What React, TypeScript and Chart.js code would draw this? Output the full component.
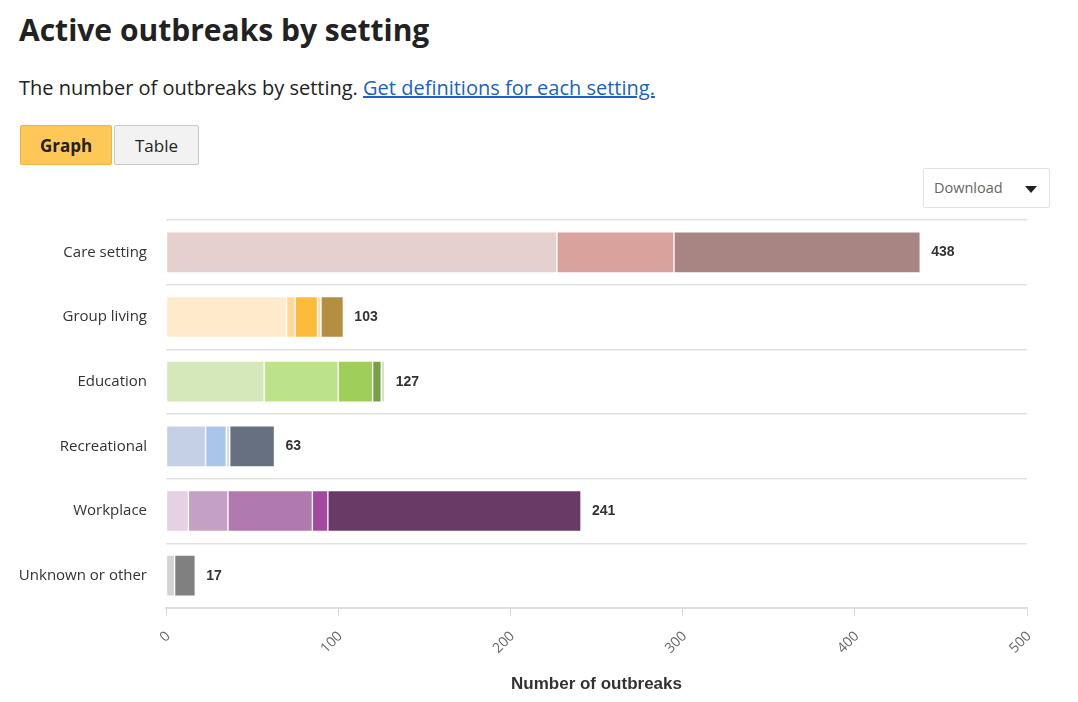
import React, { useEffect, useRef } from "react";
import { Chart, registerables } from "chart.js";

Chart.register(...registerables);

const categories = ["Care setting", "Group living", "Education", "Recreational", "Workplace", "Unknown or other"];
const totals = [438, 103, 127, 63, 241, 17];

const segment1 = [227, 70, 57, 23, 13, 5];
const segment2 = [68, 5, 43, 12, 23, 12];
const segment3 = [143, 13, 20, 2, 49, 0];
const segment4 = [0, 2, 5, 26, 9, 0];
const segment5 = [0, 13, 2, 0, 147, 0];

const colors1 = ["#E6CFCF", "#FEEBCB", "#D5E8B9", "#C4D1E4", "#E6D0E4", "#D3D3D3"];
const colors2 = ["#D8A29D", "#FDD898", "#BDE38A", "#A8C5EA", "#C4A1C4", "#808080"];
const colors3 = ["#A78582", "#FDBB3C", "#9FCF5A", "#D2DCEC", "#B07AAE", "#808080"];
const colors4 = ["#A78582", "#F3DDB6", "#789F4A", "#677080", "#A34A9F", "#808080"];
const colors5 = ["#A78582", "#B58F41", "#D6E4C4", "#677080", "#693A66", "#808080"];

const xTicks = [0, 100, 200, 300, 400, 500];

const totalsPlugin = {
  id: "totalsLabels",
  afterDatasetsDraw(chart: any) {
    const { ctx, scales } = chart;
    ctx.save();
    ctx.font = "bold 14px 'Liberation Sans', Arial, sans-serif";
    ctx.fillStyle = "#333";
    ctx.textAlign = "left";
    ctx.textBaseline = "middle";
    totals.forEach((t, i) => {
      const x = scales.x.getPixelForValue(t) + 11;
      const y = scales.y.getPixelForValue(i);
      ctx.fillText(String(t), x, y);
    });
    ctx.restore();
  },
};

function OutbreakChart() {
  const ref = useRef<HTMLCanvasElement>(null);
  useEffect(() => {
    if (!ref.current) return;
    const segs = [segment1, segment2, segment3, segment4, segment5];
    const cols = [colors1, colors2, colors3, colors4, colors5];
    const chart = new Chart(ref.current, {
      type: "bar",
      data: {
        labels: categories,
        datasets: segs.map((d, k) => ({
          label: "s" + (k + 1),
          data: d,
          backgroundColor: cols[k],
          borderColor: "rgba(255,255,255,0.85)",
          borderWidth: 1,
          borderSkipped: false,
          barThickness: 41,
        })),
      },
      options: {
        indexAxis: "y",
        responsive: false,
        animation: false,
        layout: { padding: { top: 10, right: 51, left: 0, bottom: 0 } },
        plugins: {
          legend: { display: false },
          tooltip: { enabled: false },
        },
        scales: {
          x: {
            stacked: true,
            min: 0,
            max: 500,
            afterBuildTicks: (s: any) => {
              s.ticks = xTicks.map((v) => ({ value: v }));
            },
            afterFit: (s: any) => {
              s.height = 94;
            },
            ticks: {
              minRotation: 45,
              maxRotation: 45,
              padding: 12,
              labelOffset: 2,
              color: "#666",
              font: { family: "'Open Sans', sans-serif", size: 14 },
            },
            grid: {
              drawOnChartArea: false,
              drawTicks: true,
              tickLength: 8,
              color: "#d8d8d8",
            },
            border: { display: true, color: "#dedede", width: 2 },
            title: {
              display: true,
              text: "Number of outbreaks",
              color: "#333",
              font: { family: "'Liberation Sans', Arial, sans-serif", size: 17, weight: "bold" },
              padding: { top: 4, bottom: 7 },
            },
          },
          y: {
            stacked: true,
            afterFit: (s: any) => {
              s.width = 166;
            },
            ticks: {
              padding: 19,
              color: "#333",
              font: { family: "'Open Sans', sans-serif", size: 15 },
            },
            grid: {
              color: "#e2e2e2",
              lineWidth: 1.5,
              drawTicks: false,
              offset: true,
            },
            border: { display: false },
          },
        },
      },
      plugins: [totalsPlugin],
    } as any);
    return () => chart.destroy();
  }, []);
  return <canvas ref={ref} width={1078} height={510} style={{ display: "block", width: 1078, height: 510 }} />;
}

export default function App() {
  const openSans = "'Open Sans', sans-serif";
  return (
    <div style={{ position: "absolute", left: 0, top: 0, width: 1078, height: 702, background: "#fff", overflow: "hidden" }}>
      <div
        style={{
          position: "absolute",
          left: 19,
          top: 10,
          fontFamily: openSans,
          fontWeight: 700,
          fontSize: 30,
          color: "#222",
          lineHeight: "40px",
          whiteSpace: "nowrap",
        }}
      >
        Active outbreaks by setting
      </div>
      <div
        style={{
          position: "absolute",
          left: 19,
          top: 74,
          fontFamily: openSans,
          fontSize: 20,
          color: "#222",
          lineHeight: "28px",
          whiteSpace: "nowrap",
        }}
      >
        The number of outbreaks by setting.{" "}
        <span style={{ color: "#1a62c7", textDecoration: "underline" }}>Get definitions for each setting.</span>
      </div>
      <div
        style={{
          position: "absolute",
          left: 20,
          top: 125,
          width: 90,
          height: 38,
          background: "#FEC758",
          border: "1px solid #F2B33A",
          borderRadius: 2,
          fontFamily: openSans,
          fontWeight: 700,
          fontSize: 17,
          color: "#222",
          display: "flex",
          alignItems: "center",
          justifyContent: "center",
        }}
      >
        Graph
      </div>
      <div
        style={{
          position: "absolute",
          left: 114,
          top: 125,
          width: 83,
          height: 38,
          background: "#F2F2F2",
          border: "1px solid #C8C8C8",
          borderRadius: 2,
          fontFamily: openSans,
          fontSize: 17,
          color: "#222",
          display: "flex",
          alignItems: "center",
          justifyContent: "center",
        }}
      >
        Table
      </div>
      <div
        style={{
          position: "absolute",
          left: 923,
          top: 168,
          width: 125,
          height: 38,
          background: "#fff",
          border: "1px solid #e2e2e2",
          borderRadius: 2,
          fontFamily: openSans,
          fontSize: 14.5,
          color: "#666",
        }}
      >
        <span style={{ position: "absolute", left: 10, top: 9 }}>Download</span>
        <span
          style={{
            position: "absolute",
            left: 101,
            top: 17,
            width: 0,
            height: 0,
            borderLeft: "6px solid transparent",
            borderRight: "6px solid transparent",
            borderTop: "7px solid #222",
          }}
        />
      </div>
      <div style={{ position: "absolute", left: 0, top: 192 }}>
        <OutbreakChart />
      </div>
    </div>
  );
}
